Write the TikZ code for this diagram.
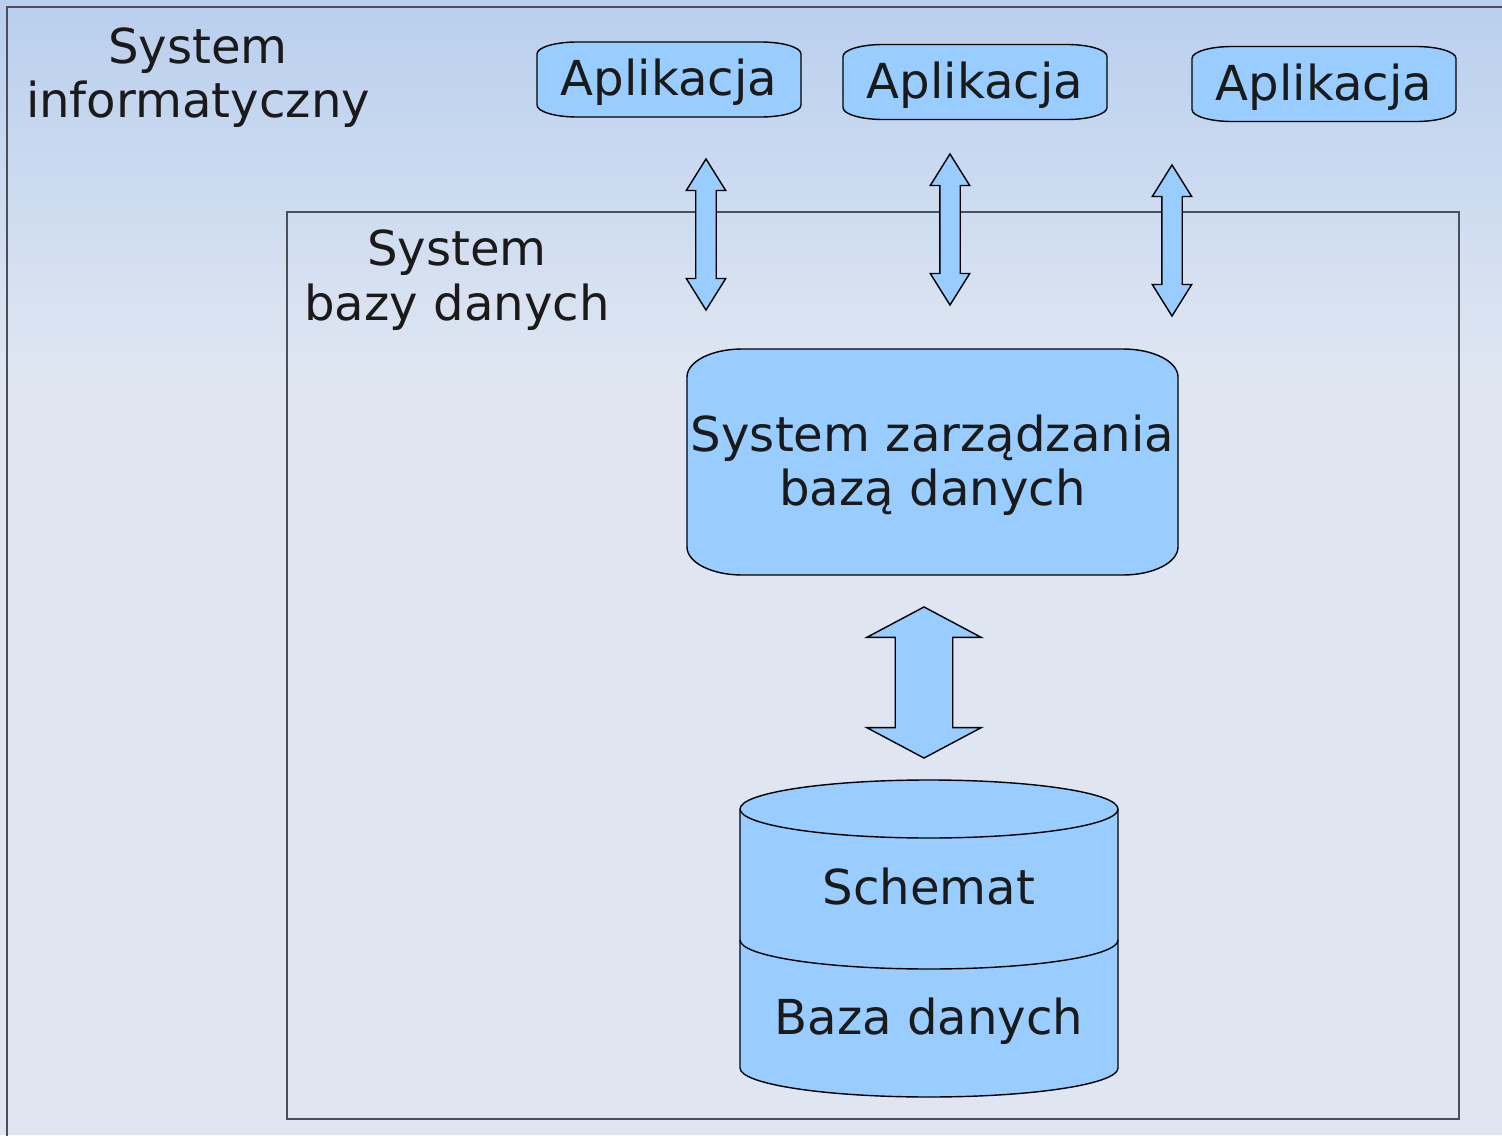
\documentclass[tikz,border=0pt]{standalone}
\usepackage{fontspec}
\setmainfont{DejaVu Sans}
\usetikzlibrary{shapes.arrows}

\definecolor{boxfill}{HTML}{99CCFF}
\definecolor{bgtop}{HTML}{B9CFEE}
\definecolor{bgbottom}{HTML}{DFE6F2}
\definecolor{framegray}{HTML}{4A4F5A}
\definecolor{inktext}{HTML}{1A1A1A}

\begin{document}
\begin{tikzpicture}[
  x=0.01cm, y=0.01cm,
  textnode/.style={
    text=inktext, align=center, inner sep=0pt,
    font=\fontsize{13.7}{15.5}\selectfont
  },
  softbox/.style={draw=black, fill=boxfill, line width=0.4pt},
  frame/.style={draw=framegray, line width=0.5pt},
  thinarrow/.style={
    double arrow, draw=black, fill=boxfill, line width=0.4pt,
    rotate=90, inner xsep=0pt, inner ysep=0.095cm,
    minimum height=1.51cm, minimum width=0.38cm,
    double arrow head extend=0.095cm, double arrow tip angle=64
  },
  bigarrow/.style={
    double arrow, draw=black, fill=boxfill, line width=0.4pt,
    rotate=90, inner xsep=0pt, inner ysep=0.28cm,
    minimum height=1.51cm, minimum width=1.13cm,
    double arrow head extend=0.285cm, double arrow tip angle=124
  }
]

\useasboundingbox (0,0) rectangle (1502,1135);
\clip (0,0) rectangle (1502,1135);

% =====================================================
% BACKGROUND AND FRAMES
% =====================================================

\fill[bgbottom] (0,0) rectangle (1502,1135);
\shade[top color=bgtop, bottom color=bgbottom] (0,760) rectangle (1502,1135);

\draw[frame] (7,-20) rectangle (1530,1128);
\draw[frame] (287,16) rectangle (1459,923);

\node[textnode] (sysinfo) at (198,1057.5) {System\\informatyczny};
\node[textnode] (sysdb) at (457,855) {System\\bazy danych};

% =====================================================
% APPLICATIONS
% =====================================================

\foreach \cx/\cy [count=\i] in {669/1055.5, 975/1053, 1324/1051} {
  \draw[softbox] (\cx-92,\cy+37.5) -- (\cx+92,\cy+37.5)
    arc[start angle=90, end angle=0, x radius=40, y radius=12]
    -- (\cx+132,\cy-25.5)
    arc[start angle=0, end angle=-90, x radius=40, y radius=12]
    -- (\cx-92,\cy-37.5)
    arc[start angle=270, end angle=180, x radius=40, y radius=12]
    -- (\cx-132,\cy+25.5)
    arc[start angle=180, end angle=90, x radius=40, y radius=12] -- cycle;
  \node[textnode] (app\i) at (\cx,\cy-3) {Aplikacja};
}

\node[thinarrow] (link1) at (706,900.5) {};
\node[thinarrow] (link2) at (950,905.5) {};
\node[thinarrow] (link3) at (1172,894.5) {};

% =====================================================
% DBMS
% =====================================================

\draw[softbox] (742,786) -- (1123,786)
  arc[start angle=90, end angle=0, x radius=55, y radius=28]
  -- (1178,588)
  arc[start angle=0, end angle=-90, x radius=55, y radius=28]
  -- (742,560)
  arc[start angle=270, end angle=180, x radius=55, y radius=28]
  -- (687,758)
  arc[start angle=180, end angle=90, x radius=55, y radius=28] -- cycle;
\node[textnode] (dbms) at (932.5,670) {System zarządzania\\bazą danych};

\node[bigarrow] (dblink) at (924,452.5) {};

% =====================================================
% DATABASE
% =====================================================

\fill[boxfill] (740,326) -- (740,67)
  arc[start angle=180, end angle=360, x radius=189, y radius=29]
  -- (1118,326)
  arc[start angle=0, end angle=180, x radius=189, y radius=29] -- cycle;
\draw[line width=0.4pt] (740,326) -- (740,67)
  arc[start angle=180, end angle=360, x radius=189, y radius=29]
  -- (1118,326);
\draw[line width=0.4pt] (929,326) ellipse [x radius=189, y radius=29];
\draw[line width=0.4pt] (740,195)
  arc[start angle=180, end angle=360, x radius=189, y radius=29];

\node[textnode] (schema) at (929,248) {Schemat};
\node[textnode] (data) at (929,114) {Baza danych};

\end{tikzpicture}
\end{document}
